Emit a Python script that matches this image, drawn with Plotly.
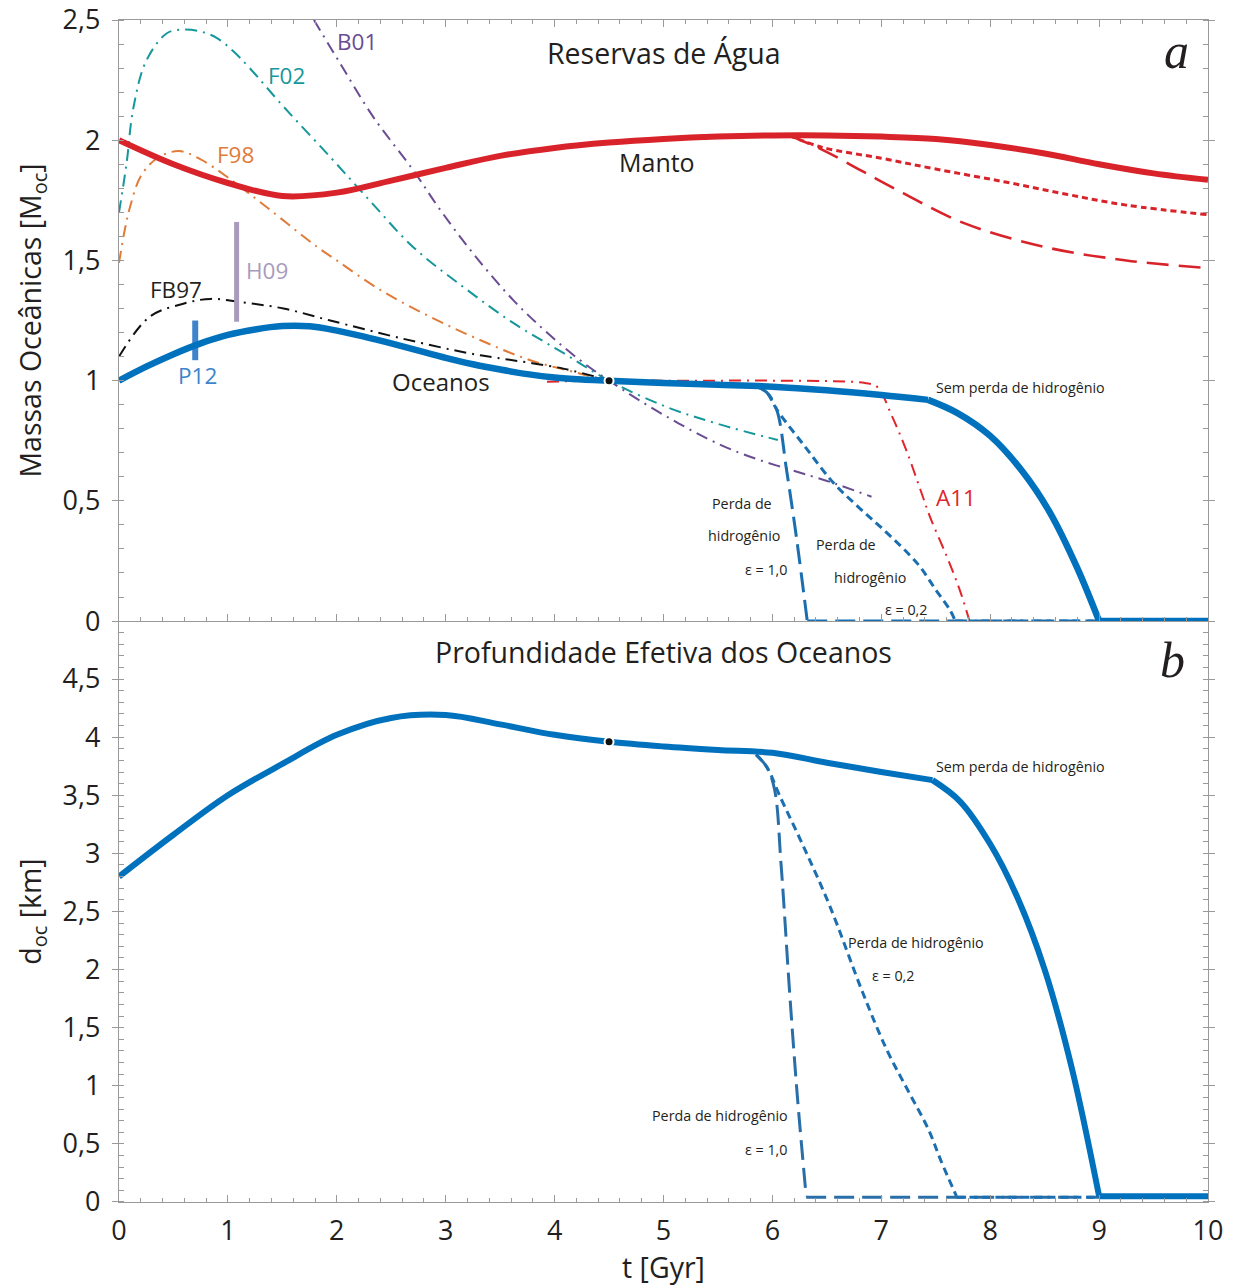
import plotly.graph_objects as go

# ---------------- DATA (top panel: ocean masses, M_oc) ----------------
manto_t = [0, 0.5, 1.0, 1.5, 2.0, 2.5, 3.0, 3.5, 4.0, 4.5, 5.0, 5.5, 6.0, 6.5, 7.0, 7.5, 8.0, 8.5, 9.0, 9.5, 10.0]
manto_v = [2.0, 1.9, 1.822, 1.768, 1.782, 1.832, 1.885, 1.935, 1.968, 1.99, 2.005, 2.015, 2.02, 2.02, 2.015, 2.005, 1.98, 1.945, 1.90, 1.862, 1.835]

manto_e02_t = [6.15, 6.46, 7.0, 7.5, 8.14, 8.7, 9.25, 10.0]
manto_e02_v = [2.02, 1.97, 1.925, 1.88, 1.826, 1.775, 1.73, 1.69]
manto_e10_t = [6.15, 6.46, 6.83, 7.2, 7.76, 8.5, 9.25, 10.0]
manto_e10_v = [2.02, 1.96, 1.87, 1.78, 1.655, 1.556, 1.50, 1.468]

ocean_t = [0, 0.25, 0.5, 0.75, 1.0, 1.25, 1.5, 1.75, 2.0, 2.25, 2.5, 2.75, 3.0, 3.25, 3.5, 3.75, 4.0, 4.25, 4.5, 5.0, 5.5, 6.0, 6.5, 7.0, 7.43]
ocean_v = [1.0, 1.058, 1.11, 1.155, 1.19, 1.213, 1.227, 1.226, 1.208, 1.183, 1.155, 1.125, 1.095, 1.068, 1.046, 1.027, 1.013, 1.005, 1.0, 0.99, 0.983, 0.975, 0.96, 0.94, 0.92]
ocean_drop_t = [7.43, 7.7, 8.0, 8.3, 8.55, 8.8, 9.0]
ocean_drop_v = [0.92, 0.865, 0.77, 0.62, 0.45, 0.22, 0.0]
ocean_tail_t = [9.0, 10.0]
ocean_tail_v = [0.0, 0.0]

ocean_e10_t = [5.86, 5.95, 6.04, 6.13, 6.22, 6.32]
ocean_e10_v = [0.975, 0.95, 0.878, 0.628, 0.35, 0.0]
ocean_e10_tail_t = [6.32, 10.0]
ocean_e10_tail_v = [0.0, 0.0]
ocean_e02_t = [5.86, 5.95, 6.04, 6.3, 6.56, 6.8, 7.02, 7.33, 7.5, 7.63, 7.68]
ocean_e02_v = [0.975, 0.95, 0.88, 0.725, 0.575, 0.47, 0.38, 0.24, 0.13, 0.046, 0.0]
ocean_e02_tail_t = [7.68, 10.0]
ocean_e02_tail_v = [0.0, 0.0]

a11_t = [3.93, 4.2, 4.5, 5.0, 5.5, 6.0, 6.5, 6.85, 6.96, 7.1, 7.23, 7.36, 7.45, 7.6, 7.72, 7.81]
a11_v = [0.995, 0.998, 1.0, 1.0, 1.0, 1.0, 0.998, 0.99, 0.975, 0.85, 0.71, 0.545, 0.43, 0.27, 0.13, 0.0]

f98_t = [0, 0.05, 0.1, 0.2, 0.35, 0.55, 0.75, 1.0, 1.36, 1.82, 2.0, 2.4, 2.86, 3.31, 3.77, 4.23, 4.5]
f98_v = [1.49, 1.62, 1.72, 1.85, 1.925, 1.955, 1.92, 1.845, 1.72, 1.556, 1.50, 1.377, 1.265, 1.17, 1.086, 1.03, 1.0]

f02_t = [0, 0.07, 0.13, 0.25, 0.44, 0.59, 0.75, 0.9, 1.05, 1.2, 1.51, 1.94, 2.3, 2.7, 3.16, 3.62, 4.08, 4.5, 5.03, 5.5, 6.05]
f02_v = [1.70, 1.905, 2.13, 2.33, 2.445, 2.46, 2.452, 2.425, 2.37, 2.30, 2.14, 1.93, 1.75, 1.556, 1.39, 1.24, 1.115, 1.0, 0.89, 0.82, 0.753]

b01_t = [1.79, 2.03, 2.33, 2.70, 2.95, 3.25, 3.62, 3.93, 4.23, 4.5, 5.03, 5.64, 6.56, 6.91]
b01_v = [2.5, 2.32, 2.10, 1.876, 1.71, 1.53, 1.335, 1.20, 1.086, 1.0, 0.85, 0.71, 0.574, 0.517]

fb97_t = [0, 0.28, 0.59, 0.84, 1.11, 1.51, 1.94, 2.6, 3.2, 3.47, 4.08, 4.5]
fb97_v = [1.10, 1.265, 1.32, 1.34, 1.327, 1.30, 1.25, 1.175, 1.115, 1.095, 1.05, 1.0]

h09_t = [1.08, 1.08]
h09_v = [1.245, 1.66]
p12_t = [0.7, 0.7]
p12_v = [1.085, 1.25]

now_t = [4.5]
now_top_v = [1.0]
now_bot_v = [3.96]

# ---------------- DATA (bottom panel: effective ocean depth, km) ----------------
depth_t = [0, 0.5, 1.0, 1.5, 2.0, 2.5, 3.0, 3.5, 4.0, 4.5, 5.0, 5.5, 6.0, 6.5, 7.0, 7.47]
depth_v = [2.8, 3.16, 3.5, 3.77, 4.02, 4.165, 4.19, 4.11, 4.02, 3.96, 3.92, 3.89, 3.865, 3.78, 3.70, 3.63]
depth_drop_t = [7.47, 7.72, 8.0, 8.25, 8.5, 8.75, 9.0]
depth_drop_v = [3.63, 3.45, 3.08, 2.62, 2.0, 1.15, 0.05]
depth_tail_t = [9.0, 10.0]
depth_tail_v = [0.05, 0.05]

depth_e10_t = [5.85, 5.95, 6.02, 6.08, 6.16, 6.23, 6.31]
depth_e10_v = [3.85, 3.74, 3.55, 2.9, 1.78, 0.9, 0.05]
depth_e10_tail_t = [6.31, 10.0]
depth_e10_tail_v = [0.04, 0.04]
depth_e02_t = [5.85, 5.95, 6.07, 6.3, 6.53, 6.83, 7.05, 7.25, 7.43, 7.55, 7.69]
depth_e02_v = [3.85, 3.74, 3.49, 3.03, 2.54, 1.8, 1.31, 0.95, 0.63, 0.35, 0.05]
depth_e02_tail_t = [7.69, 10.0]
depth_e02_tail_v = [0.04, 0.04]

# ---------------- STYLE ----------------
FONT = "Open Sans"
TXT = "#231f20"
BLUE = "#0071bc"
BLUE_D = "#1b6fb0"
RED = "#d9232a"
ORANGE = "#e07b39"
TEAL = "#16979c"
PURPLE = "#694c92"
AXC = "#9a9a9a"

fig = go.Figure()


def line(t, v, color, width, dash="solid", shape="spline", top=True, smoothing=1.0):
    fig.add_trace(go.Scatter(
        x=t, y=v, mode="lines",
        line=dict(color=color, width=width, dash=dash, shape=shape,
                  smoothing=smoothing if shape == "spline" else None),
        xaxis="x" if top else "x2", yaxis="y" if top else "y2",
        hoverinfo="skip", showlegend=False))


DD = "12px,6px,2px,6px"  # dash-dot

# top panel reference curves
line(f02_t, f02_v, TEAL, 2, DD)
line(b01_t, b01_v, PURPLE, 2, DD)
line(f98_t, f98_v, ORANGE, 2, DD)
line(fb97_t, fb97_v, "#111111", 2, DD)
line(a11_t, a11_v, "#e0262b", 2, DD)
line(h09_t, h09_v, "#a89bbd", 5, shape="linear")
line(p12_t, p12_v, "#3e84cc", 6, shape="linear")

# manto
line(manto_e02_t, manto_e02_v, RED, 3, "6px,4px")
line(manto_e10_t, manto_e10_v, RED, 2.6, "22px,10px")
line(manto_t, manto_v, RED, 6)

# oceans (top)
line(ocean_e10_t, ocean_e10_v, BLUE_D, 3, "20px,8px")
line(ocean_e10_tail_t, ocean_e10_tail_v, BLUE_D, 3, "20px,8px", shape="linear")
line(ocean_e02_t, ocean_e02_v, BLUE_D, 3, "8px,5px")
line(ocean_e02_tail_t, ocean_e02_tail_v, BLUE_D, 3, "8px,5px", shape="linear")
line(ocean_t, ocean_v, BLUE, 6.5)
line(ocean_drop_t, ocean_drop_v, BLUE, 6.5)
line(ocean_tail_t, ocean_tail_v, BLUE, 6.5, shape="linear")

# bottom panel
line(depth_e10_t, depth_e10_v, "#2a6ea8", 3, "20px,8px", top=False)
line(depth_e10_tail_t, depth_e10_tail_v, "#2a6ea8", 3, "20px,8px", shape="linear", top=False)
line(depth_e02_t, depth_e02_v, BLUE_D, 3, "8px,5px", top=False)
line(depth_e02_tail_t, depth_e02_tail_v, BLUE_D, 3, "8px,5px", shape="linear", top=False)
line(depth_t, depth_v, BLUE, 6, top=False)
line(depth_drop_t, depth_drop_v, BLUE, 6, top=False)
line(depth_tail_t, depth_tail_v, BLUE, 6, shape="linear", top=False)

# "present day" dots
for v, ax in ((now_top_v, ("x", "y")), (now_bot_v, ("x2", "y2"))):
    fig.add_trace(go.Scatter(x=now_t, y=v, mode="markers",
                             marker=dict(color="#111111", size=9, line=dict(color="white", width=2)),
                             xaxis=ax[0], yaxis=ax[1], hoverinfo="skip", showlegend=False))

# ---------------- ANNOTATIONS ----------------
def note(x, y, text, size=20, color=TXT, top=True, family=FONT):
    fig.add_annotation(x=x, y=y, text=text, showarrow=False,
                       xref="x" if top else "x2", yref="y" if top else "y2",
                       font=dict(family=family, size=size, color=color))

LBL = 22.5
SM = 14.3
note(5.0, 2.363, "Reservas de Água", 28.5)
note(9.71, 2.37, "<i>a</i>", 50, family="Liberation Serif")
note(2.19, 2.41, "B01", LBL, PURPLE)
note(1.54, 2.27, "F02", LBL, TEAL)
note(1.07, 1.94, "F98", LBL, ORANGE)
note(4.94, 1.91, "Manto", 25)
note(1.36, 1.46, "H09", LBL, "#a89bbd")
note(0.52, 1.377, "FB97", LBL)
note(0.725, 1.023, "P12", LBL, "#3e84cc")
note(2.96, 0.998, "Oceanos", 24)
note(8.28, 0.973, "Sem perda de hidrogênio", SM)
note(7.69, 0.512, "A11", LBL, "#e0262b")
note(5.72, 0.491, "Perda de", SM)
note(5.74, 0.354, "hidrogênio", SM)
note(5.94, 0.216, "ε = 1,0", SM)
note(6.68, 0.32, "Perda de", SM)
note(6.9, 0.183, "hidrogênio", SM)
note(7.23, 0.046, "ε = 0,2", SM)

note(5.0, 4.733, "Profundidade Efetiva dos Oceanos", 28.5, top=False)
note(9.67, 4.66, "<i>b</i>", 50, top=False, family="Liberation Serif")
note(8.28, 3.744, "Sem perda de hidrogênio", SM, top=False)
note(7.32, 2.229, "Perda de hidrogênio", SM, top=False)
note(7.11, 1.945, "ε = 0,2", SM, top=False)
note(5.52, 0.74, "Perda de hidrogênio", SM, top=False)
note(5.94, 0.456, "ε = 1,0", SM, top=False)

# ---------------- AXES ----------------
base_x = dict(range=[0, 10], dtick=1, tick0=0, showgrid=False, zeroline=False, automargin=False,
              showline=True, linecolor=AXC, linewidth=1.3,
              ticks="inside", ticklen=7, tickcolor=AXC, tickwidth=1.2,
              minor=dict(dtick=0.2, ticks="inside", ticklen=4, tickcolor=AXC, tickwidth=1, showgrid=False),
              tickfont=dict(family=FONT, size=27, color=TXT))
base_y = dict(showgrid=False, zeroline=False, showline=True, linecolor=AXC, linewidth=1.3, automargin=False,
              ticks="outside", ticklen=6, tickcolor=AXC, tickwidth=1.2, mirror="ticks",
              dtick=0.5, tick0=0,
              minor=dict(dtick=0.1, ticks="inside", ticklen=5, tickcolor=AXC, tickwidth=1, showgrid=False),
              tickfont=dict(family=FONT, size=27, color=TXT), ticklabelstandoff=6)

TITLE_FONT = dict(family=FONT, size=28.5, color=TXT)
split = 0.4915
fig.update_layout(
    width=1234, height=1286,
    margin=dict(l=119, r=26, t=20, b=84, autoexpand=False),
    paper_bgcolor="white", plot_bgcolor="white",
    separators=",.",
    showlegend=False,
    font=dict(family=FONT, color=TXT),
    xaxis=dict(base_x, anchor="y", showticklabels=False, mirror="ticks"),
    yaxis=dict(base_y, anchor="x", domain=[split, 1], range=[0, 2.5],
               title=dict(text="Massas Oceânicas [M<sub>oc</sub>]", font=TITLE_FONT, standoff=12)),
    xaxis2=dict(base_x, anchor="y2", showticklabels=True, mirror=False, ticklabelstandoff=4,
                title=dict(text="t [Gyr]", font=TITLE_FONT, standoff=2)),
    yaxis2=dict(base_y, anchor="x2", domain=[0, split], range=[0, 4.999],
                title=dict(text="d<sub>oc</sub> [km]", font=TITLE_FONT, standoff=12)),
)

fig.write_html("out.html")
